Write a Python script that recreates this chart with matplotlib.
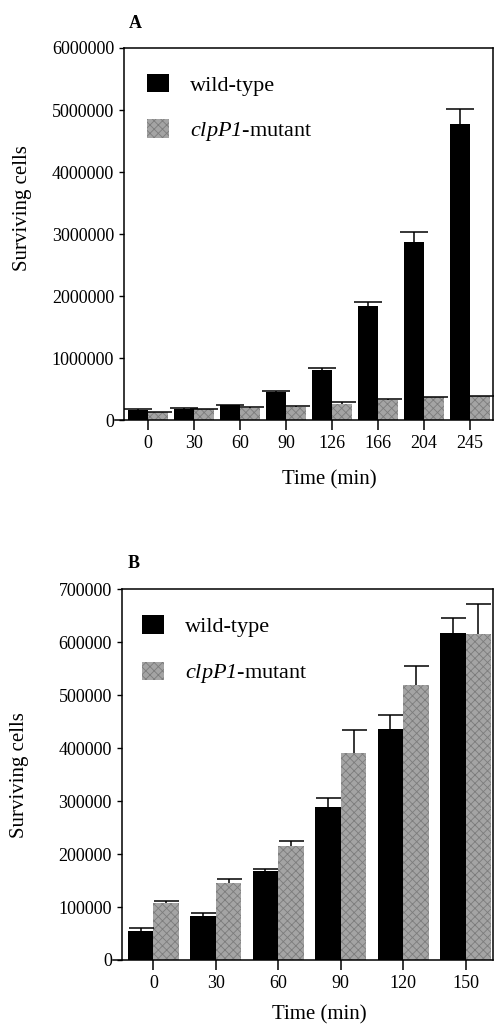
import numpy as np
import matplotlib
matplotlib.use("Agg")
import matplotlib.pyplot as plt
from matplotlib.patches import Patch

plt.rcParams['font.family'] = ['Liberation Serif', 'DejaVu Serif']
plt.rcParams['mathtext.fontset'] = 'custom'
plt.rcParams['mathtext.rm'] = 'Liberation Serif:italic'
plt.rcParams['mathtext.it'] = 'Liberation Serif:italic'
plt.rcParams['hatch.linewidth'] = 0.6

# panel A data
times_a = ["0", "30", "60", "90", "126", "166", "204", "245"]
wt_a = [160000, 185000, 235000, 450000, 805000, 1840000, 2870000, 4780000]
wt_a_err = [10000, 10000, 10000, 15000, 40000, 60000, 170000, 230000]
mut_a = [125000, 170000, 200000, 215000, 265000, 325000, 365000, 385000]
mut_a_err = [5000, 8000, 8000, 10000, 20000, 10000, 10000, 10000]

# panel B data
times_b = ["0", "30", "60", "90", "120", "150"]
wt_b = [55000, 83000, 168000, 289000, 437000, 617000]
wt_b_err = [6000, 6000, 4000, 16000, 25000, 28000]
mut_b = [108000, 146000, 216000, 390000, 520000, 615000]
mut_b_err = [4000, 6000, 9000, 45000, 35000, 58000]

labels = ["wild-type", r"$clpP1$-mutant"]
grey = '#a4a4a4'
grey_hatch = '#7c7c7c'

fig = plt.figure(figsize=(4.95, 10.3), dpi=100)
ax_a = fig.add_axes([0.2505, 0.5922, 0.745, 0.3612])
ax_b = fig.add_axes([0.2459, 0.0680, 0.750, 0.3599])


def up_errors(ax, xpos, vals, errs, capsize):
    # only the upper half of the error bar, no cap at the bar top
    eb = ax.errorbar(xpos, vals, yerr=[np.zeros(len(vals)), errs], fmt='none',
                     ecolor='black', elinewidth=1.1, capsize=capsize, capthick=1.1)
    for cap in eb[1]:
        if np.allclose(cap.get_ydata(), vals):
            cap.set_visible(False)


def draw_panel(ax, times, wt, wt_err, mut, mut_err, width, capsize, ymax, step,
               xlim, spine_left, leg_anchor, leg_spacing):
    x = np.arange(len(times))
    ax.bar(x - width / 2, wt, width, color='black', linewidth=0)
    ax.bar(x + width / 2, mut, width, color=grey, edgecolor=grey_hatch,
           hatch='xxxx', linewidth=0)
    up_errors(ax, x - width / 2, wt, wt_err, capsize)
    up_errors(ax, x + width / 2, mut, mut_err, capsize)
    ax.set_xlim(*xlim)
    ax.set_ylim(0, ymax)
    ax.set_xticks(x)
    ax.set_xticklabels(times)
    ax.set_yticks(np.arange(0, ymax + 1, step))
    ax.set_yticklabels([str(int(v)) for v in np.arange(0, ymax + 1, step)])
    ax.tick_params(axis='x', length=7, width=1.1, pad=4, labelsize=13)
    ax.tick_params(axis='y', length=3.6, width=1.0, pad=3.5, labelsize=13)
    for s in ax.spines.values():
        s.set_linewidth(1.1)
    ax.spines['bottom'].set_bounds(spine_left, xlim[1])
    ax.spines['bottom'].set_clip_on(False)
    ax.set_xlabel("Time (min)", fontsize=15)
    ax.set_ylabel("Surviving cells", fontsize=15)
    handles = [Patch(facecolor='black', linewidth=0),
               Patch(facecolor=grey, edgecolor=grey_hatch, hatch='xxxx', linewidth=0)]
    ax.legend(handles, labels, loc='upper left', bbox_to_anchor=leg_anchor,
              frameon=False, fontsize=16, borderpad=0, borderaxespad=0,
              handlelength=1.0, handleheight=0.9, handletextpad=0.95,
              labelspacing=leg_spacing)


draw_panel(ax_a, times_a, wt_a, wt_a_err, mut_a, mut_a_err, 0.43, 10,
           6000000, 1000000, (-0.52, 7.5), -0.72, (0.062, 0.93), 1.05)
draw_panel(ax_b, times_b, wt_b, wt_b_err, mut_b, mut_b_err, 0.41, 9,
           700000, 100000, (-0.506, 5.437), -0.65, (0.055, 0.93), 1.1)

ax_a.xaxis.set_label_coords(0.558, -0.134)
ax_a.yaxis.set_label_coords(-0.25, 0.57)
ax_b.xaxis.set_label_coords(0.531, -0.121)
ax_b.yaxis.set_label_coords(-0.25, 0.5)

fig.text(135 / 495, 1 - 23 / 1030, "A", fontsize=13, fontweight='bold',
         ha='center', va='center')
fig.text(134 / 495, 1 - 563 / 1030, "B", fontsize=13, fontweight='bold',
         ha='center', va='center')

fig.savefig("out.png", dpi=100)
